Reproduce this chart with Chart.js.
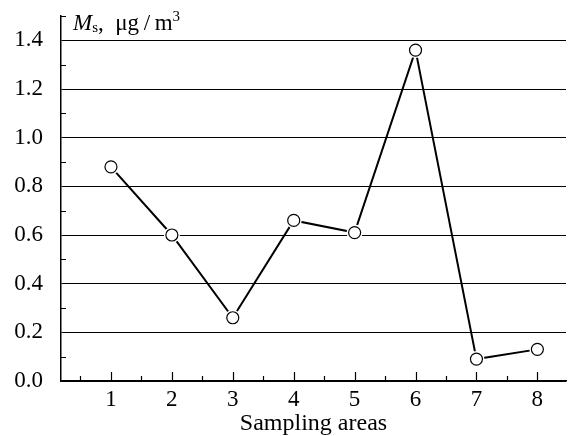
<!DOCTYPE html>
<html>
<head>
<meta charset="utf-8">
<script src="https://cdn.jsdelivr.net/npm/chart.js@4"></script>
<style>
  body { margin: 0; background: #fff; }
  #wrap { position: relative; width: 574px; height: 436px; }
  #ylabel { position: absolute; left: 73px; top: 8px; font-family: 'Liberation Serif', serif; font-size: 23px; color: #000; white-space: nowrap; }
  #ylabel sub { font-size: 15px; vertical-align: -2px; }
  #ylabel sup { font-size: 15px; vertical-align: 9px; }
</style>
</head>
<body>
<div id="wrap">
  <canvas id="chart" width="574" height="436"></canvas>
  <div id="ylabel"><i>M</i><sub>s</sub>,&nbsp; μg&thinsp;/&thinsp;m<sup>3</sup></div>
</div>
<script>
const areas = [1, 2, 3, 4, 5, 6, 7, 8];
const msValues = [0.88, 0.60, 0.26, 0.66, 0.61, 1.36, 0.09, 0.13];
const yTicks = [0, 0.2, 0.4, 0.6, 0.8, 1.0, 1.2, 1.4];
const yMinorTicks = [0.1, 0.3, 0.5, 0.7, 0.9, 1.1, 1.3, 1.5];
const xMinorTicks = [0.5, 1.5, 2.5, 3.5, 4.5, 5.5, 6.5, 7.5];
const xTitle = 'Sampling areas';

const points = areas.map((a, i) => ({x: a, y: msValues[i]}));
const serif = "'Liberation Serif', serif";

// little inward ticks on both axes
const innerTicks = {
  id: 'innerTicks',
  afterDraw(chart) {
    const ctx = chart.ctx;
    const x = chart.scales.x, y = chart.scales.y;
    const left = chart.chartArea.left, bottom = chart.chartArea.bottom;
    ctx.save();
    ctx.strokeStyle = '#000';
    ctx.lineWidth = 1.2;
    ctx.beginPath();
    yMinorTicks.forEach(v => {
      const py = Math.round(y.getPixelForValue(v)) + 0.5;
      ctx.moveTo(left, py); ctx.lineTo(left + 5, py);
    });
    areas.forEach(v => {
      const px = Math.round(x.getPixelForValue(v)) + 0.5;
      ctx.moveTo(px, bottom); ctx.lineTo(px, bottom - 9);
    });
    xMinorTicks.forEach(v => {
      const px = Math.round(x.getPixelForValue(v)) + 0.5;
      ctx.moveTo(px, bottom); ctx.lineTo(px, bottom - 5);
    });
    ctx.stroke();
    ctx.restore();
  }
};

new Chart(document.getElementById('chart'), {
  type: 'line',
  data: {
    datasets: [{
      // markers on top
      data: points,
      showLine: false,
      pointRadius: 6,
      pointBackgroundColor: '#fff',
      pointBorderColor: '#000',
      pointBorderWidth: 1.2
    }, {
      // white halos so the line stops short of the markers
      data: points,
      showLine: false,
      pointRadius: 8,
      pointBorderWidth: 0,
      pointBackgroundColor: '#fff',
      pointBorderColor: '#fff'
    }, {
      data: points,
      borderColor: '#000',
      borderWidth: 2,
      tension: 0,
      pointRadius: 0
    }]
  },
  options: {
    responsive: false,
    animation: false,
    events: [],
    layout: { padding: { top: 16, right: 0, left: 0, bottom: 0 } },
    plugins: { legend: { display: false }, tooltip: { enabled: false } },
    scales: {
      x: {
        type: 'linear',
        min: 0.18,
        max: 8.47,
        afterBuildTicks: s => { s.ticks = areas.map(v => ({value: v})); },
        afterFit: s => { s.height = 55; },
        grid: { display: false, drawTicks: false },
        border: { display: true, color: '#000', width: 1.5 },
        ticks: { color: '#000', font: { family: serif, size: 23 }, padding: 5, maxRotation: 0,
                 callback: v => String(v) },
        title: { display: true, text: xTitle, color: '#000', font: { family: serif, size: 24 },
                 padding: { top: 0, bottom: -2 } }
      },
      y: {
        min: 0,
        max: 1.5,
        afterBuildTicks: s => { s.ticks = yTicks.map(v => ({value: v})); },
        afterFit: s => { s.width = 61; s.paddingTop = 0; s.paddingBottom = 0; },
        grid: { color: '#000', lineWidth: 1, drawTicks: false },
        border: { display: true, color: '#000', width: 1.5 },
        ticks: { color: '#000', font: { family: serif, size: 23 }, padding: 18,
                 callback: v => v.toFixed(1) }
      }
    }
  },
  plugins: [innerTicks]
});
</script>
</body>
</html>
